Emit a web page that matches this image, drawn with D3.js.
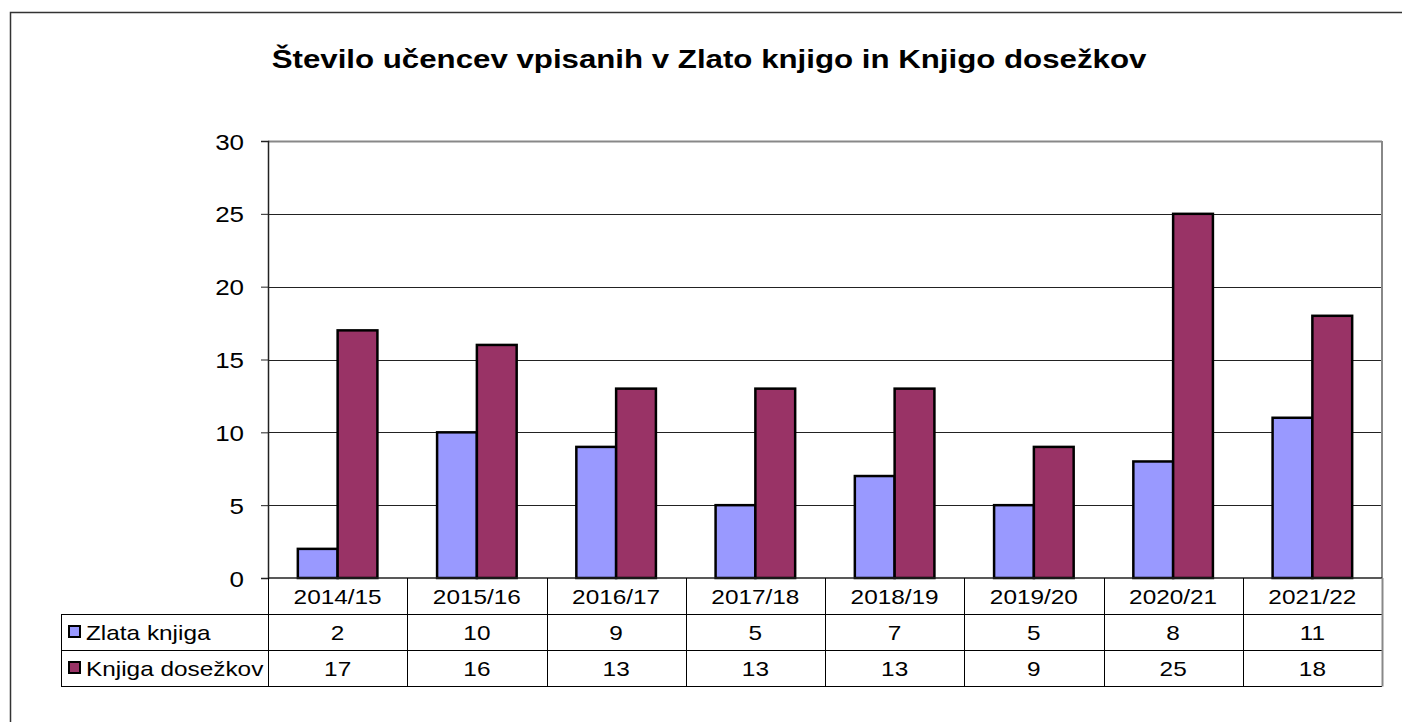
<!DOCTYPE html>
<html>
<head>
<meta charset="utf-8">
<script src="https://cdn.jsdelivr.net/npm/d3@7"></script>
<style>
  body { margin: 0; background: #fff; }
  svg { display: block; font-family: "Liberation Sans", Arial, sans-serif; }
</style>
</head>
<body>
<svg id="chart" width="1402" height="722"></svg>
<script>
// DATA
const years = ["2014/15", "2015/16", "2016/17", "2017/18", "2018/19", "2019/20", "2020/21", "2021/22"];
const seriesNames = ["Zlata knjiga", "Knjiga dosežkov"];
const zlataKnjiga = [2, 10, 9, 5, 7, 5, 8, 11];
const knjigaDosezkov = [17, 16, 13, 13, 13, 9, 25, 18];
const yTicks = [0, 5, 10, 15, 20, 25, 30];
const colors = ["#9999ff", "#993366"];

const series = [zlataKnjiga, knjigaDosezkov];

// SETUP
const plot = { left: 268, right: 1382, top: 141, bottom: 578 };
const rowH = 36;
const stretch = 1.16; // text in the picture is a bit wider than plain Arial

const svg = d3.select("#chart");

// outer frame
svg.append("rect")
    .attr("x", 10.5).attr("y", 12.5)
    .attr("width", 1420).attr("height", 740)
    .attr("fill", "none")
    .attr("stroke", "#333")
    .attr("stroke-width", 1.5);

// SCALES
const x = d3.scaleBand()
    .domain(years)
    .range([plot.left, plot.right]);

const xInner = d3.scaleBand()
    .domain(d3.range(series.length))
    .range([0, x.bandwidth()])
    .paddingOuter(0.75);

const y = d3.scaleLinear()
    .domain([0, 30])
    .range([plot.bottom, plot.top]);

// gridlines
svg.append("g")
    .selectAll("line")
    .data(yTicks.filter(d => d > 0))
    .join("line")
    .attr("x1", plot.left).attr("x2", plot.right)
    .attr("y1", d => Math.round(y(d)) + 0.5)
    .attr("y2", d => Math.round(y(d)) + 0.5)
    .attr("stroke", d => d === 30 ? "#888" : "#222")
    .attr("stroke-width", d => d === 30 ? 2 : 1);

// plot right border
svg.append("line")
    .attr("x1", plot.right).attr("x2", plot.right)
    .attr("y1", plot.top).attr("y2", plot.bottom)
    .attr("stroke", "#888").attr("stroke-width", 2);

// BARS
years.forEach((yr, i) => {
    svg.append("g")
        .selectAll("rect")
        .data(series.map((s, k) => ({ k, v: s[i] })))
        .join("rect")
        .attr("x", d => x(yr) + xInner(d.k))
        .attr("y", d => y(d.v))
        .attr("width", xInner.bandwidth())
        .attr("height", d => y(0) - y(d.v))
        .attr("fill", d => colors[d.k])
        .attr("stroke", "#000")
        .attr("stroke-width", 2.5);
});

// Y AXIS
const yAxis = svg.append("g")
    .attr("transform", `translate(${plot.left},0)`)
    .call(d3.axisLeft(y).tickValues(yTicks).tickSize(7).tickPadding(0));
yAxis.select(".domain").attr("stroke", "#222").attr("stroke-width", 1.5);
yAxis.selectAll(".tick line").attr("stroke", "#222");
yAxis.selectAll(".tick text")
    .attr("x", null)
    .attr("dy", null)
    .attr("font-size", 22)
    .attr("font-family", "Liberation Sans, Arial, sans-serif")
    .attr("fill", "#000")
    .attr("transform", `translate(-24,8) scale(1.18,1)`);

// baseline
svg.append("line")
    .attr("x1", plot.left).attr("x2", plot.right)
    .attr("y1", plot.bottom).attr("y2", plot.bottom)
    .attr("stroke", "#222").attr("stroke-width", 1.5);

// DATA TABLE
const table = svg.append("g");
const tableLeft = 61;
const rowY = [plot.bottom, plot.bottom + rowH, plot.bottom + 2 * rowH, plot.bottom + 3 * rowH];

// horizontal lines
[1, 2, 3].forEach(r => {
    table.append("line")
        .attr("x1", tableLeft).attr("x2", plot.right)
        .attr("y1", rowY[r] + 0.5).attr("y2", rowY[r] + 0.5)
        .attr("stroke", "#000");
});
// vertical lines
years.concat(["end"]).forEach((yr, i) => {
    const xv = i < years.length ? x(yr) : plot.right;
    table.append("line")
        .attr("x1", Math.round(xv) + 0.5).attr("x2", Math.round(xv) + 0.5)
        .attr("y1", rowY[0]).attr("y2", rowY[3] + 0.5)
        .attr("stroke", i === years.length ? "#888" : "#000")
        .attr("stroke-width", i === years.length ? 2 : 1);
});
table.append("line")
    .attr("x1", tableLeft + 0.5).attr("x2", tableLeft + 0.5)
    .attr("y1", rowY[1]).attr("y2", rowY[3] + 0.5)
    .attr("stroke", "#000");

const cellText = (g, cx, cy, txt) => {
    g.append("text")
        .attr("transform", `translate(${cx},${cy}) scale(${stretch},1)`)
        .attr("text-anchor", "middle")
        .attr("dy", "0.36em")
        .attr("font-size", 21)
        .text(txt);
};

// header row (categories)
years.forEach(yr => cellText(table, x(yr) + x.bandwidth() / 2, rowY[0] + rowH / 2, yr));

// series rows
series.forEach((s, k) => {
    const cy = rowY[k + 1] + rowH / 2;
    table.append("rect")
        .attr("x", 69).attr("y", cy - 6)
        .attr("width", 11).attr("height", 11)
        .attr("fill", colors[k])
        .attr("stroke", "#000").attr("stroke-width", 2);
    table.append("text")
        .attr("transform", `translate(86,${cy}) scale(${stretch},1)`)
        .attr("dy", "0.36em")
        .attr("font-size", 21)
        .text(seriesNames[k]);
    s.forEach((v, i) => cellText(table, x(years[i]) + x.bandwidth() / 2, cy, v));
});

// TITLE
svg.append("text")
    .attr("transform", "translate(709,68) scale(1.25,1)")
    .attr("text-anchor", "middle")
    .attr("font-size", 25)
    .attr("font-weight", "bold")
    .text("Število učencev vpisanih v Zlato knjigo in Knjigo dosežkov");
</script>
</body>
</html>
